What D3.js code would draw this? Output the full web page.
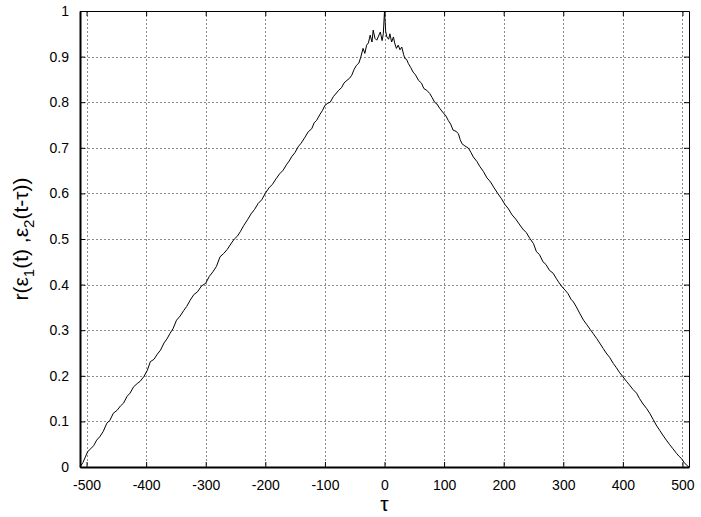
<!DOCTYPE html>
<html>
<head>
<meta charset="utf-8">
<script src="https://cdnjs.cloudflare.com/ajax/libs/d3/7.8.5/d3.min.js"></script>
<style>
  body { margin: 0; background: #fff; }
  text { font-family: "Liberation Sans", Arial, sans-serif; fill: #000; }
</style>
</head>
<body>
<div id="chart"></div>
<script>
// lag values (tau) and correlation
var lags = [
  -511, -506, -502, -498, -493, -488, -483, -478, -472, -466, -461, -455, -449, -443, -438, -432,
  -427, -421, -415, -410, -404, -398, -393, -387, -381, -376, -370, -365, -360, -355, -349, -343,
  -337, -332, -326, -320, -314, -307, -300, -294, -288, -282, -276, -270, -264, -258, -252, -247,
  -242, -236, -230, -224, -218, -212, -206, -200, -194, -188, -182, -176, -170, -164, -160, -156,
  -150, -145, -140, -134, -128, -122, -118, -114, -108, -104, -100, -95, -91, -86, -82, -77,
  -72, -68, -63, -59, -55, -51, -47, -43, -40, -36, -33, -30, -27, -24, -21, -19,
  -16, -13, -10, -7, -4, -2, 0, 2, 4, 7, 9, 12, 15, 17, 20, 23,
  26, 29, 32, 34, 37, 40, 44, 48, 52, 57, 62, 66, 71, 76, 80, 84,
  88, 93, 99, 103, 107, 111, 115, 120, 124, 127, 130, 135, 141, 145, 149, 155,
  160, 166, 172, 178, 184, 190, 196, 202, 208, 214, 220, 226, 232, 238, 244, 250,
  255, 260, 266, 271, 277, 283, 288, 293, 298, 303, 308, 313, 317, 322, 328, 334,
  339, 345, 350, 356, 361, 367, 372, 378, 384, 389, 394, 400, 406, 411, 417, 423,
  428, 434, 440, 445, 451, 456, 462, 467, 473, 478, 484, 490, 494, 498, 503, 507, 511
];
var corr = [
  0.000, 0.010, 0.022, 0.034, 0.040, 0.047, 0.059, 0.066, 0.078, 0.096, 0.102, 0.118, 0.124, 0.134, 0.140, 0.155,
  0.162, 0.176, 0.183, 0.188, 0.198, 0.212, 0.231, 0.236, 0.248, 0.256, 0.272, 0.281, 0.293, 0.303, 0.322, 0.331,
  0.343, 0.352, 0.366, 0.378, 0.384, 0.397, 0.403, 0.418, 0.428, 0.440, 0.461, 0.468, 0.477, 0.489, 0.500, 0.506,
  0.516, 0.530, 0.542, 0.555, 0.565, 0.578, 0.586, 0.600, 0.612, 0.620, 0.632, 0.643, 0.651, 0.664, 0.671, 0.680,
  0.690, 0.702, 0.710, 0.722, 0.735, 0.742, 0.755, 0.760, 0.774, 0.782, 0.793, 0.798, 0.800, 0.812, 0.818, 0.826,
  0.832, 0.842, 0.848, 0.852, 0.859, 0.872, 0.881, 0.886, 0.898, 0.918, 0.907, 0.925, 0.930, 0.947, 0.932, 0.958,
  0.940, 0.936, 0.945, 0.954, 0.935, 0.950, 1.000, 0.955, 0.943, 0.938, 0.950, 0.932, 0.943, 0.930, 0.918, 0.925,
  0.915, 0.921, 0.905, 0.896, 0.894, 0.885, 0.876, 0.866, 0.860, 0.848, 0.842, 0.830, 0.826, 0.819, 0.810, 0.800,
  0.796, 0.786, 0.776, 0.770, 0.760, 0.752, 0.739, 0.736, 0.731, 0.718, 0.709, 0.704, 0.699, 0.690, 0.680, 0.670,
  0.659, 0.648, 0.634, 0.625, 0.612, 0.600, 0.589, 0.576, 0.566, 0.553, 0.544, 0.533, 0.522, 0.514, 0.501, 0.490,
  0.472, 0.466, 0.450, 0.444, 0.431, 0.425, 0.414, 0.404, 0.395, 0.388, 0.380, 0.368, 0.362, 0.351, 0.336, 0.322,
  0.313, 0.302, 0.293, 0.282, 0.272, 0.260, 0.250, 0.240, 0.227, 0.218, 0.208, 0.198, 0.188, 0.180, 0.170, 0.162,
  0.150, 0.138, 0.128, 0.118, 0.104, 0.092, 0.080, 0.070, 0.059, 0.050, 0.040, 0.030, 0.024, 0.019, 0.010, 0.004, 0.000
];
var xTicks = [-500, -400, -300, -200, -100, 0, 100, 200, 300, 400, 500];
var yTicks = [0, 0.1, 0.2, 0.3, 0.4, 0.5, 0.6, 0.7, 0.8, 0.9, 1];

var svgWidth = 701;
var svgHeight = 517;

var margin = {
    top: 11,
    right: 12,
    bottom: 50,
    left: 80
};

var width = svgWidth - margin.left - margin.right;
var height = svgHeight - margin.top - margin.bottom;

var svg = d3.select("#chart")
    .append("svg")
    .attr("width", svgWidth)
    .attr("height", svgHeight);

var chartGroup = svg.append("g")
    .attr("transform", `translate(${margin.left}, ${margin.top})`);

var points = lags.map(function(t, i) { return { lag: t, r: corr[i] }; });

// scales
var xScale = d3.scaleLinear()
    .domain([-511, 511])
    .range([0, width]);

var yScale = d3.scaleLinear()
    .domain([0, 1])
    .range([height, 0]);

// dotted grid
chartGroup.append("g")
    .selectAll("line")
    .data(xTicks)
    .enter()
    .append("line")
    .attr("x1", d => Math.round(xScale(d)) + 0.5)
    .attr("x2", d => Math.round(xScale(d)) + 0.5)
    .attr("y1", 0)
    .attr("y2", height)
    .attr("stroke", "#8c8c8c")
    .attr("stroke-dasharray", "2,2");

chartGroup.append("g")
    .selectAll("line")
    .data(yTicks)
    .enter()
    .append("line")
    .attr("x1", 0)
    .attr("x2", width)
    .attr("y1", d => Math.round(yScale(d)) + 0.5)
    .attr("y2", d => Math.round(yScale(d)) + 0.5)
    .attr("stroke", "#8c8c8c")
    .attr("stroke-dasharray", "2,2");

// axes, ticks pointing inward (plain hyphen for negatives, like the original)
var bottomAxis = d3.axisBottom(xScale).tickValues(xTicks).tickSizeInner(-5).tickSizeOuter(0).tickPadding(13).tickFormat(d => String(d));
var topAxis = d3.axisTop(xScale).tickValues(xTicks).tickSizeInner(-5).tickSizeOuter(0).tickFormat("");
var leftAxis = d3.axisLeft(yScale).tickValues(yTicks).tickSizeInner(-5).tickSizeOuter(0).tickPadding(11).tickFormat(d => String(d));
var rightAxis = d3.axisRight(yScale).tickValues(yTicks).tickSizeInner(-5).tickSizeOuter(0).tickFormat("");

var gBottom = chartGroup.append("g")
    .attr("transform", `translate(0, ${height})`)
    .call(bottomAxis);
var gTop = chartGroup.append("g").call(topAxis);
var gLeft = chartGroup.append("g").call(leftAxis);
var gRight = chartGroup.append("g")
    .attr("transform", `translate(${width}, 0)`)
    .call(rightAxis);

[gBottom, gTop, gLeft, gRight].forEach(function(g) {
    g.selectAll("text").style("font-size", "14px").style("font-family", "Liberation Sans, Arial, sans-serif").attr("fill", "#000");
    g.selectAll("line").attr("stroke", "#000");
    g.select(".domain").attr("stroke", "#000");
});
gBottom.select(".domain").attr("stroke-width", 2);
gLeft.select(".domain").attr("stroke-width", 2);

// the correlation curve
var line = d3.line()
    .x(d => xScale(d.lag))
    .y(d => yScale(d.r));

chartGroup.append("path")
    .datum(points)
    .attr("d", line)
    .attr("fill", "none")
    .attr("stroke", "#000")
    .attr("stroke-width", 1);

// axis labels
chartGroup.append("text")
    .attr("x", width / 2)
    .attr("y", height + 44)
    .attr("text-anchor", "middle")
    .style("font-size", "21px")
    .text("τ");

var yLabel = chartGroup.append("text")
    .attr("transform", `translate(${-52}, ${height / 2}) rotate(-90)`)
    .attr("text-anchor", "middle")
    .style("font-size", "21px");
yLabel.append("tspan").text("r(ε");
yLabel.append("tspan").attr("dy", 6).style("font-size", "15px").text("1");
yLabel.append("tspan").attr("dy", -6).text("(t) ,ε");
yLabel.append("tspan").attr("dy", 6).style("font-size", "15px").text("2");
yLabel.append("tspan").attr("dy", -6).text("(t-τ))");
</script>
</body>
</html>
